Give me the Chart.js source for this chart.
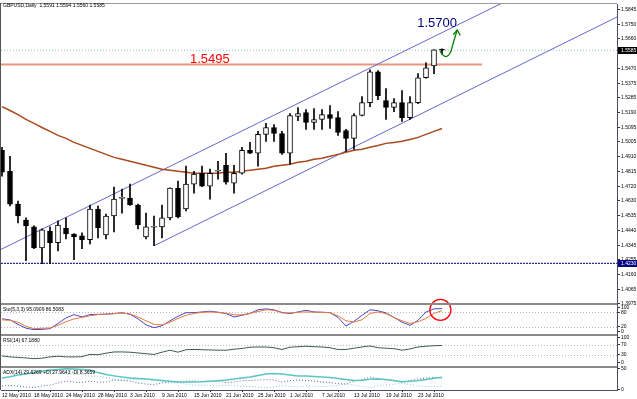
<!DOCTYPE html>
<html>
<head>
<meta charset="utf-8">
<script src="https://cdn.jsdelivr.net/npm/chart.js@4.4.0/dist/chart.umd.min.js"></script>
<style>
  html, body { margin: 0; padding: 0; background: #fff; }
  #wrap { position: relative; width: 637px; height: 399px; }
</style>
</head>
<body>
<div id="wrap"><canvas id="chart"></canvas></div>
<script>
// Chart data ------------------------------------------------------------
const symbolTitle = 'GBPUSD,Daily  1.5591 1.5594 1.5560 1.5585';
const stochTitle = 'Sto(5,3,3) 95.0909 86.5083';
const rsiTitle = 'RSI(14) 67.1880';
const adxTitle = 'ADX(14) 29.6269 +DI 27.9643 -DI 8.3659';

const dateLabels = ['12 May 2010', '18 May 2010', '24 May 2010', '28 May 2010', '3 Jun 2010', '9 Jun 2010',
  '15 Jun 2010', '21 Jun 2010', '25 Jun 2010', '1 Jul 2010', '7 Jul 2010', '13 Jul 2010', '19 Jul 2010', '23 Jul 2010'];
const dateBars = [0, 4, 8, 12, 16, 20, 24, 28, 32, 36, 40, 44, 48, 52];

const opens = [1.4949, 1.4816, 1.4607, 1.4506, 1.4462, 1.4329, 1.4436, 1.4361, 1.4455, 1.4417,
  1.4405, 1.4380, 1.4576, 1.4411, 1.4531, 1.4643, 1.4645, 1.4601, 1.4399, 1.4460,
  1.4462, 1.4519, 1.4708, 1.4576, 1.4734, 1.4803, 1.4721, 1.4816, 1.4854, 1.4740,
  1.4803, 1.4949, 1.4930, 1.5050, 1.5094, 1.5056, 1.4930, 1.5164, 1.5189, 1.5126,
  1.5145, 1.5176, 1.5157, 1.5075, 1.5025, 1.5170, 1.5252, 1.5448, 1.5265, 1.5221,
  1.5252, 1.5157, 1.5252, 1.5410, 1.5486, 1.5591];
const highs = [1.4968, 1.4911, 1.4626, 1.4519, 1.4468, 1.4449, 1.4462, 1.4500, 1.4519, 1.4420,
  1.4424, 1.4601, 1.4595, 1.4544, 1.4715, 1.4702, 1.4734, 1.4607, 1.4550, 1.4531,
  1.4601, 1.4710, 1.4753, 1.4848, 1.4816, 1.4848, 1.4829, 1.4879, 1.4930, 1.4854,
  1.4968, 1.4999, 1.5069, 1.5120, 1.5113, 1.5069, 1.5183, 1.5221, 1.5208, 1.5214,
  1.5208, 1.5233, 1.5195, 1.5082, 1.5183, 1.5290, 1.5461, 1.5455, 1.5341, 1.5278,
  1.5328, 1.5290, 1.5436, 1.5505, 1.5590, 1.5594];
const lows = [1.4784, 1.4595, 1.4487, 1.4247, 1.4323, 1.4228, 1.4228, 1.4310, 1.4386, 1.4253,
  1.4323, 1.4354, 1.4392, 1.4386, 1.4430, 1.4550, 1.4598, 1.4449, 1.4386, 1.4342,
  1.4392, 1.4506, 1.4519, 1.4563, 1.4677, 1.4718, 1.4639, 1.4765, 1.4734, 1.4677,
  1.4797, 1.4928, 1.4848, 1.5006, 1.5006, 1.4923, 1.4860, 1.5138, 1.5082, 1.5082,
  1.5082, 1.5088, 1.5044, 1.4942, 1.4955, 1.5168, 1.5227, 1.5271, 1.5145, 1.5195,
  1.5132, 1.5145, 1.5246, 1.5408, 1.5436, 1.5560];
const closes = [1.4810, 1.4607, 1.4531, 1.4468, 1.4329, 1.4443, 1.4361, 1.4474, 1.4417, 1.4399,
  1.4380, 1.4576, 1.4455, 1.4531, 1.4639, 1.4647, 1.4601, 1.4474, 1.4462, 1.4463,
  1.4519, 1.4708, 1.4525, 1.4734, 1.4797, 1.4721, 1.4803, 1.4822, 1.4746, 1.4803,
  1.4949, 1.4930, 1.5050, 1.5094, 1.5056, 1.4930, 1.5170, 1.5183, 1.5126, 1.5145,
  1.5176, 1.5151, 1.5063, 1.5025, 1.5170, 1.5252, 1.5448, 1.5297, 1.5221, 1.5252,
  1.5157, 1.5252, 1.5410, 1.5474, 1.5587, 1.5585];

const movingAvg = [1.5227, 1.5202, 1.5176, 1.5145, 1.5120, 1.5094, 1.5069, 1.5044, 1.5025, 1.4999,
  1.4980, 1.4961, 1.4942, 1.4923, 1.4904, 1.4892, 1.4879, 1.4866, 1.4854, 1.4841,
  1.4829, 1.4822, 1.4816, 1.4810, 1.4803, 1.4803, 1.4803, 1.4803, 1.4810, 1.4810,
  1.4816, 1.4822, 1.4829, 1.4835, 1.4848, 1.4854, 1.4860, 1.4873, 1.4879, 1.4892,
  1.4898, 1.4911, 1.4923, 1.4936, 1.4949, 1.4955, 1.4968, 1.4980, 1.4993, 1.4999,
  1.5006, 1.5018, 1.5031, 1.5050, 1.5069, 1.5088];

const stochK = [52, 48, 29, 13, 7, 8, 11, 33, 56, 70, 60, 70, 71, 72, 74, 78, 71, 52, 27, 15,
  23, 44, 63, 78, 78, 81, 84, 80, 74, 60, 67, 75, 90, 94, 90, 79, 74, 81, 88, 81,
  80, 78, 58, 22, 42, 67, 90, 86, 77, 58, 38, 25, 46, 81, 94, 95.09];
const stochD = [48, 46, 38, 21, 11, 12.5, 14, 25, 40, 52, 58, 65, 70, 72, 74, 76, 73, 60, 44, 29,
  27, 38, 54, 67, 75, 79, 81, 79, 76, 69, 69, 75, 83, 90, 88, 77, 77, 80, 81, 80,
  79, 78, 65, 44, 39, 48, 75, 81, 74, 58, 44, 33, 40, 54, 75, 86.51];
const rsi = [25, 21, 19, 17, 14, 16, 21, 24, 21, 21, 22, 31, 30, 36, 41, 41, 40, 37, 34, 31,
  40, 48, 40, 50, 51, 50, 49, 48, 48, 52, 55, 60, 61, 61, 58, 51, 60, 62, 64, 62,
  61, 58, 51, 51, 56, 61, 65, 58, 56, 54, 48, 53, 61, 64, 66, 67.19];
const adx = [27.6, 31, 35, 37, 40.6, 44, 46.5, 48, 49.8, 49.3, 47.7, 46.5, 40.6, 35.9, 32.8, 30, 28, 26.4, 25.2, 23.8,
  21.7, 19.8, 18.2, 18.2, 18.2, 18.6, 19.8, 21.2, 22.9, 25.2, 28, 30, 33.5, 37, 38.5, 37, 34.7, 32.8, 32.3, 31.6,
  30.4, 28.8, 26.4, 24, 21.7, 22.2, 24.8, 25.2, 24.5, 21.7, 19.1, 20, 21.5, 24, 27, 29.63];
const plusDI = [8.7, 9.9, 8.7, 6.4, 5.2, 8.7, 11, 15.8, 20.5, 18, 17, 20.5, 18, 18, 23, 21.7, 20.5, 15.8, 13.4, 12.3,
  15.8, 19.3, 17, 20.5, 20.5, 19.3, 20.5, 20.5, 17, 18, 21.7, 21.7, 23, 24, 23, 18, 21.7, 23, 21.7, 20.5,
  18, 17, 14.6, 13.4, 20.5, 24, 30, 26.4, 23, 20.5, 18, 21.7, 25.2, 27.6, 28.8, 27.96];
const minusDI = [41.8, 46.5, 47.7, 48.8, 48.8, 45.3, 44, 39.4, 37, 37, 35.9, 32.3, 32.3, 28.8, 25.2, 22.9, 22.9, 25.2, 24, 22.9,
  19.3, 15.8, 17, 13.4, 11, 11, 9.9, 8.7, 11, 9.9, 7.5, 7.5, 6.4, 5.2, 6.4, 9.9, 7.5, 6.4, 8.7, 8.7,
  7.5, 8.7, 11, 13.4, 11, 7.5, 5.2, 8.7, 11, 13.4, 15.1, 12.3, 8.7, 7.5, 7.5, 8.37];

// price axis labels that are visible on the right
const priceTicks = [1.5845, 1.5750, 1.5660, 1.5470, 1.5375, 1.5285, 1.5190, 1.5095, 1.5005, 1.4910,
  1.4815, 1.4720, 1.4630, 1.4535, 1.4440, 1.4345, 1.4255, 1.4160, 1.4065, 1.3975];
const stochTicks = [100, 80, 20, 0];
const stochLevels = [80, 20];
const rsiTicks = [100, 70, 30, 0];
const rsiLevels = [70, 30];
const adxTicks = [50, 0];

// drawn objects (bar index, price)
const resistance = 1.5495;
const resistanceEnd = 60;
const supportLow = 1.4230;
const bidPrice = 1.5585;
const channelUpper = [{ x: -0.25, y: 1.4316 }, { x: 62.4, y: 1.5882 }];
const channelLower = [{ x: 19, y: 1.4342 }, { x: 76.9, y: 1.5797 }];
const labels = [
  { text: '1.5495', x: 23.5, y: 1.5505, color: '#ff0000' },
  { text: '1.5700', x: 51.9, y: 1.5733, color: '#000080' }
];
const arrowPath = [{ x: 54.75, y: 1.5581 }, { x: 55.5, y: 1.5512 }, { x: 56.1, y: 1.5575 }, { x: 56.5, y: 1.5651 }, { x: 56.9, y: 1.5714 }];
const stochMark = { x: 54.8, y: 89.6 };

// Build the chart -------------------------------------------------------
const family = '"Liberation Sans", Arial, sans-serif';
const bars = opens.map((o, i) => i);
const pts = arr => arr.map((v, i) => ({ x: i, y: v }));
const hline = (v, a, b) => [{ x: a, y: v }, { x: b, y: v }];
const xMin = -0.125, xMax = 76.875;

const sideAxis = (weight, min, max, tickList, digits) => ({
    position: 'right',
    stack: 'panels',
    stackWeight: weight,
    min: min,
    max: max,
    afterBuildTicks: s => { s.ticks = tickList.map(v => ({ value: v })); },
    afterFit: s => { s.width = 20; },
    ticks: {
        autoSkip: false,
        padding: 1,
        color: '#000',
        font: { size: 5, family: family },
        callback: v => v.toFixed(digits)
    },
    grid: { drawOnChartArea: false, tickLength: 3, tickColor: '#333' },
    border: { color: '#4a4a6a' }
});

const lineSet = (data, axis, color, width, dash, order) => ({
    type: 'line',
    data: data,
    yAxisID: axis,
    borderColor: color,
    borderWidth: width,
    borderDash: dash,
    pointRadius: 0,
    tension: 0,
    fill: false,
    order: order
});

const overlay = {
    id: 'overlay',
    beforeDatasetsDraw(chart) {
        const ctx = chart.ctx, area = chart.chartArea, s = chart.scales;
        ctx.save();
        ctx.strokeStyle = '#b8b8b8';
        ctx.lineWidth = 1;
        ctx.setLineDash([1, 2]);
        const levels = [[s.yStoch, stochLevels], [s.yRsi, rsiLevels]];
        levels.forEach(([sc, lv]) => lv.forEach(v => {
            const y = Math.round(sc.getPixelForValue(v)) + 0.5;
            ctx.beginPath(); ctx.moveTo(area.left, y); ctx.lineTo(area.right, y); ctx.stroke();
        }));
        ctx.restore();
    },
    afterDatasetsDraw(chart) {
        const ctx = chart.ctx, s = chart.scales;
        const X = v => s.x.getPixelForValue(v), Y = v => s.y.getPixelForValue(v);
        ctx.save();
        // text objects
        ctx.font = '13px ' + family;
        ctx.textBaseline = 'alphabetic';
        ctx.textAlign = 'left';
        labels.forEach(l => { ctx.fillStyle = l.color; ctx.fillText(l.text, X(l.x), Y(l.y)); });
        // green arrow
        const p = arrowPath.map(q => [X(q.x), Y(q.y)]);
        ctx.strokeStyle = '#008000';
        ctx.lineWidth = 1.3;
        ctx.beginPath();
        ctx.moveTo(p[0][0], p[0][1]);
        ctx.quadraticCurveTo(p[1][0], p[1][1], p[2][0], p[2][1]);
        ctx.quadraticCurveTo(p[3][0], p[3][1], p[4][0], p[4][1]);
        ctx.stroke();
        ctx.beginPath();
        ctx.moveTo(p[4][0] - 4, p[4][1] + 5);
        ctx.lineTo(p[4][0], p[4][1]);
        ctx.lineTo(p[4][0] + 3, p[4][1] + 5.5);
        ctx.stroke();
        // red circle on the stochastic
        ctx.strokeStyle = '#ff0000';
        ctx.lineWidth = 1.3;
        ctx.beginPath();
        ctx.arc(X(stochMark.x), s.yStoch.getPixelForValue(stochMark.y), 10.5, 0, Math.PI * 2);
        ctx.stroke();
        ctx.restore();
    },
    afterDraw(chart) {
        const ctx = chart.ctx, area = chart.chartArea, s = chart.scales;
        ctx.save();
        // panel separators
        ctx.fillStyle = '#8a8a8a';
        [s.yStoch, s.yRsi, s.yAdx].forEach(sc => {
            ctx.fillRect(0, Math.round(sc.top) - 1, area.right, 2);
        });
        // frame
        ctx.fillStyle = '#555';
        ctx.fillRect(area.left - 1, area.top - 1, 1, area.bottom - area.top + 1);
        ctx.fillStyle = '#9a9a9a';
        ctx.fillRect(area.left, area.top - 1, area.right - area.left, 1);
        // titles
        ctx.fillStyle = '#000';
        ctx.font = '5px ' + family;
        ctx.textBaseline = 'top';
        ctx.textAlign = 'left';
        ctx.fillText(symbolTitle, 3, 3);
        ctx.fillText(stochTitle, 3, s.yStoch.top + 3);
        ctx.fillText(rsiTitle, 3, s.yRsi.top + 3);
        ctx.fillText(adxTitle, 3, s.yAdx.top + 3);
        // price boxes on the axis
        const boxes = [[bidPrice, '#000000'], [supportLow, '#000080']];
        ctx.textBaseline = 'middle';
        boxes.forEach(([v, c]) => {
            const y = Math.round(s.y.getPixelForValue(v));
            ctx.fillStyle = c;
            ctx.fillRect(area.right + 1, y - 3, 637 - area.right - 1, 7);
            ctx.fillStyle = '#fff';
            ctx.fillText(v.toFixed(4), area.right + 4, y + 0.5);
        });
        ctx.restore();
    }
};

new Chart(document.getElementById('chart'), {
    type: 'line',
    data: {
        datasets: [
            {
                type: 'bar',
                data: bars.map(i => ({ x: i, y: [opens[i], closes[i]] })),
                yAxisID: 'y',
                grouped: false,
                barThickness: 5,
                minBarLength: 1,
                borderSkipped: false,
                borderWidth: 1,
                borderColor: '#000',
                backgroundColor: bars.map(i => (closes[i] >= opens[i] ? '#ffffff' : '#000000')),
                order: 0
            },
            {
                type: 'bar',
                data: bars.map(i => ({ x: i, y: [lows[i], highs[i]] })),
                yAxisID: 'y',
                grouped: false,
                barThickness: 1,
                borderWidth: 0,
                backgroundColor: '#000',
                order: 1
            },
            lineSet(pts(movingAvg), 'y', '#a84a1c', 1.5, [], 2),
            lineSet(channelUpper, 'y', '#6666d0', 1, [], 3),
            lineSet(channelLower, 'y', '#6666d0', 1, [], 3),
            lineSet(hline(resistance, -0.25, resistanceEnd), 'y', '#e9967a', 2, [], 3),
            lineSet(hline(supportLow, xMin, xMax), 'y', '#2b2b8c', 1.2, [2, 1], 3),
            lineSet(hline(bidPrice, xMin, xMax), 'y', '#8fc0c0', 1, [1, 2], 3),
            lineSet(pts(stochD), 'yStoch', '#e87a40', 1, [], 4),
            lineSet(pts(stochK), 'yStoch', '#4848c8', 1, [], 4),
            lineSet(pts(rsi), 'yRsi', '#3e5c52', 1, [], 4),
            lineSet(pts(adx), 'yAdx', '#5cc4c4', 1.5, [], 4),
            lineSet(pts(plusDI), 'yAdx', '#5a6a90', 1, [1, 2], 4),
            lineSet(pts(minusDI), 'yAdx', '#7fd0d0', 1, [1, 2], 4)
        ]
    },
    options: {
        responsive: true,
        maintainAspectRatio: false,
        animation: false,
        events: [],
        layout: { padding: { top: 2, left: 1, right: 0, bottom: 0 } },
        plugins: {
            legend: { display: false },
            tooltip: { enabled: false }
        },
        scales: {
            x: {
                type: 'linear',
                min: xMin,
                max: xMax,
                offset: false,
                position: 'bottom',
                afterBuildTicks: s => { s.ticks = dateBars.map(v => ({ value: v })); },
                afterFit: s => { s.height = 9; },
                ticks: {
                    autoSkip: false,
                    maxRotation: 0,
                    align: 'start',
                    padding: 1,
                    color: '#000',
                    font: { size: 5, family: family },
                    callback: (v, i) => dateLabels[i]
                },
                grid: { drawOnChartArea: false, tickLength: 2, tickColor: '#333' },
                border: { color: '#4a4a6a' }
            },
            y: sideAxis(302, 1.3969, 1.5879, priceTicks, 4),
            yStoch: sideAxis(31, -16.7, 112.5, stochTicks, 0),
            yRsi: sideAxis(32, -20, 108, rsiTicks, 0),
            yAdx: sideAxis(23, -0.7, 53.6, adxTicks, 0)
        }
    },
    plugins: [overlay]
});
</script>
</body>
</html>
